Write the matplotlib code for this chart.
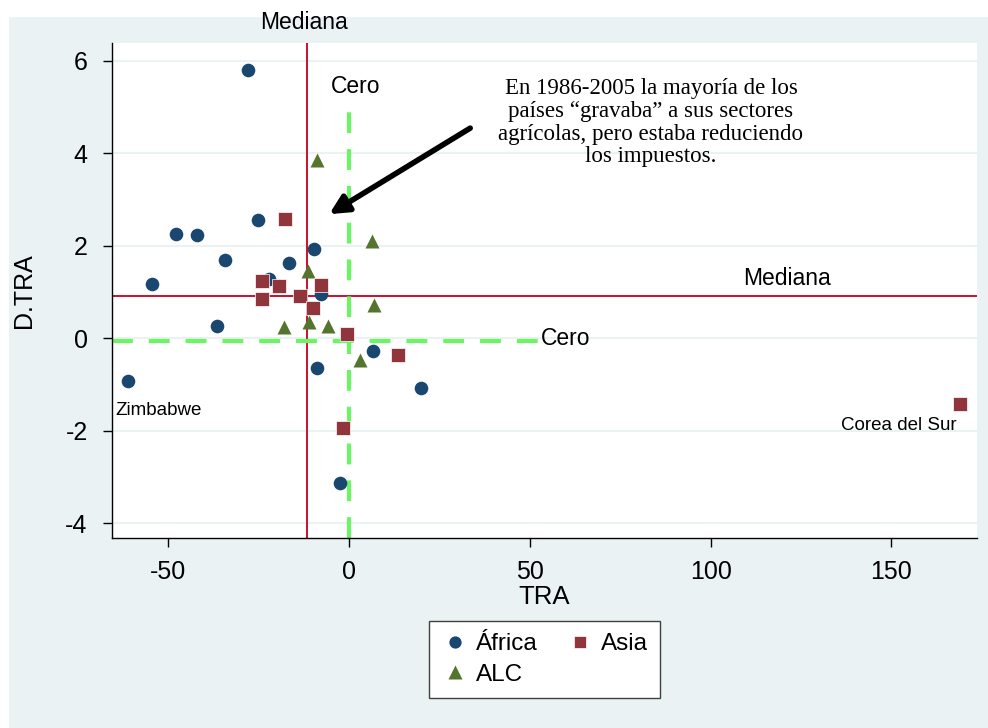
import matplotlib
matplotlib.use("Agg")
import matplotlib.pyplot as plt
from matplotlib.patches import Rectangle

plt.rcParams['font.family'] = ['Liberation Sans', 'DejaVu Sans']
plt.rcParams['axes.unicode_minus'] = False
plt.rcParams['lines.scale_dashes'] = False

# ---- data ----
africa_x = [-61.1, -54.5, -47.9, -42.0, -34.3, -36.5, -27.9, -25.2, -22.3, -16.5, -9.6, -7.8, -8.8, 6.6, 20.0, -2.5]
africa_y = [-0.93, 1.17, 2.25, 2.23, 1.69, 0.26, 5.79, 2.55, 1.28, 1.63, 1.92, 0.95, -0.64, -0.27, -1.08, -3.14]

asia_x = [-17.8, -24.2, -19.5, -24.0, -13.5, -7.7, -10.1, -0.55, 13.6, -1.6, 169.0]
asia_y = [2.58, 1.23, 1.12, 0.84, 0.92, 1.14, 0.65, 0.10, -0.36, -1.94, -1.43]

alc_x = [-8.9, 6.4, -11.3, 7.0, -18.0, -11.2, -5.8, 2.9]
alc_y = [3.85, 2.10, 1.45, 0.71, 0.25, 0.35, 0.27, -0.48]

median_x = -11.6
median_y = 0.91
zero_val = -0.07

xticks = [-50, 0, 50, 100, 150]
yticks = [-4, -2, 0, 2, 4, 6]

annotation = ("En 1986-2005 la mayoría de los\npaíses “gravaba” a sus sectores\n"
              "agrícolas, pero estaba reduciendo\nlos impuestos.")

# ---- colors ----
bg = '#eaf2f3'
c_af = '#1a476f'
c_as = '#90353b'
c_alc = '#55752f'
c_med = '#c8102e'
c_zero = '#6af562'

fig = plt.figure(figsize=(9.88, 7.28), dpi=100)
fig.patch.set_facecolor('white')
fig.patches.append(Rectangle((9/988, 0), 1 - 9/988, 1 - 17/728, transform=fig.transFigure,
                             facecolor=bg, edgecolor='none', zorder=-10))

ax = fig.add_axes([112/988, 1 - 538/728, (977 - 112)/988, (538 - 43)/728])
ax.set_facecolor('white')
ax.set_xlim(-65.6, 173.7)
ax.set_ylim(-4.32, 6.38)

for s in ['top', 'right']:
    ax.spines[s].set_visible(False)
for s in ['left', 'bottom']:
    ax.spines[s].set_color('black')
    ax.spines[s].set_linewidth(1.0)

ax.set_xticks(xticks)
ax.set_yticks(yticks)
ax.tick_params(axis='both', direction='out', length=6.5, width=1, labelsize=18, colors='black')
ax.tick_params(axis='y', pad=11)
ax.tick_params(axis='x', pad=9)
ax.yaxis.grid(True, color=bg, linewidth=1.5)
ax.set_axisbelow(True)

ax.set_xlabel('TRA', fontsize=18.5, labelpad=1)
ax.set_ylabel('D.TRA', fontsize=18, labelpad=21)

# reference lines
ax.axvline(median_x, color=c_med, lw=1.4, zorder=2)
ax.axhline(median_y, color=c_med, lw=1.4, zorder=2)
ax.plot([-65.6, 53.0], [zero_val, zero_val], color=c_zero, lw=3, dashes=(15, 11.5), zorder=2)
ax.plot([0, 0], [-4.32, 4.95], color=c_zero, lw=3, dashes=(15, 11.5), zorder=2)

# points
ax.plot(africa_x, africa_y, 'o', color=c_af, ms=9.8, mec='none', zorder=3, label='África')
ax.plot(alc_x, alc_y, '^', color=c_alc, ms=10.5, mec='none', zorder=3, label='ALC')
ax.plot(asia_x, asia_y, 's', color=c_as, ms=10, mec='white', mew=0.5, zorder=3, label='Asia')

# labels
ax.text(-12.4, 6.83, 'Mediana', fontsize=16.5, ha='center', va='center', clip_on=False)
ax.text(121.2, 1.30, 'Mediana', fontsize=16.5, ha='center', va='center')
ax.text(1.7, 5.43, 'Cero', fontsize=16.5, ha='center', va='center')
ax.text(53.1, 0.0, 'Cero', fontsize=16.5, ha='left', va='center')
ax.text(-64.7, -1.56, 'Zimbabwe', fontsize=13.5, ha='left', va='center')
ax.text(168.2, -1.88, 'Corea del Sur', fontsize=13.5, ha='right', va='center')

ax.text(83.5, 4.66, annotation, fontsize=16.5, ha='center', va='center',
        family=['Liberation Serif', 'DejaVu Serif'], linespacing=1.12, multialignment='center')
ax.annotate('', xy=(-5.5, 2.68), xytext=(33.5, 4.54),
            arrowprops=dict(arrowstyle='-|>', lw=4, color='black', mutation_scale=28,
                            shrinkA=0, shrinkB=0))

leg = fig.legend(loc='center', bbox_to_anchor=(544.5/988, 1 - 659.5/728), ncol=2,
                 fontsize=17.5, frameon=True, fancybox=False, edgecolor='#404040',
                 facecolor='white', framealpha=1, handletextpad=0.3, columnspacing=1.2,
                 borderpad=0.5, labelspacing=0.35, handlelength=1.1, markerscale=0.9)
leg.get_frame().set_linewidth(1.0)

fig.savefig('out.png', dpi=100, facecolor=fig.get_facecolor())
